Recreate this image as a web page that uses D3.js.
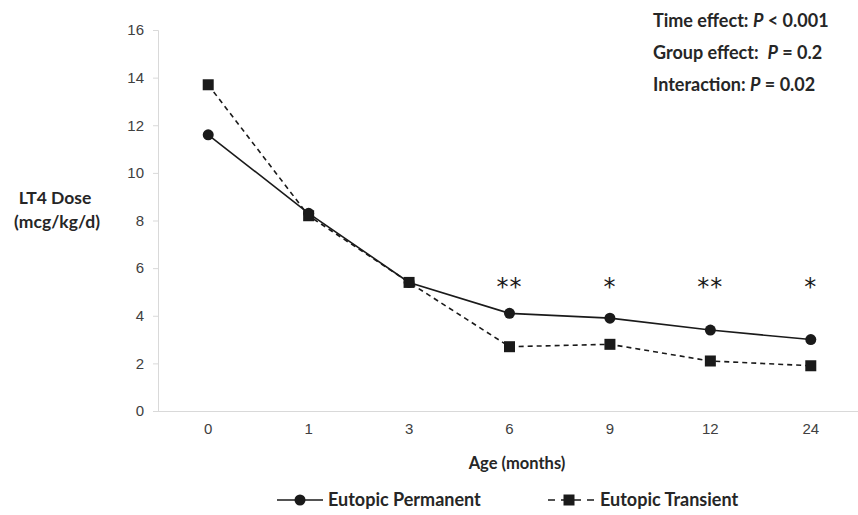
<!DOCTYPE html>
<html>
<head>
<meta charset="utf-8">
<script src="https://cdn.jsdelivr.net/npm/d3@7"></script>
<style>
  body { margin: 0; background: #fff; }
  svg { font-family: Lato, "Open Sans", sans-serif; }
</style>
</head>
<body>
<div id="chart"></div>
<script>
// Chart data
const ages = ["0", "1", "3", "6", "9", "12", "24"];
const permanent = [11.6, 8.3, 5.4, 4.1, 3.9, 3.4, 3.0];
const transient = [13.7, 8.2, 5.4, 2.7, 2.8, 2.1, 1.9];
const stars = ["", "", "", "**", "*", "**", "*"];
const yTicks = [0, 2, 4, 6, 8, 10, 12, 14, 16];
const stats = [
    ["Time effect: ", "P", " < 0.001"],
    ["Group effect:  ", "P", " = 0.2"],
    ["Interaction: ", "P", " = 0.02"]
];

const width = 858, height = 515;
const margin = { top: 30, right: -3, bottom: 104, left: 158 };
const ink = "#1a1a1a", textCol = "#262626";

const svg = d3.select("#chart").append("svg")
    .attr("width", width)
    .attr("height", height);

const x = d3.scaleBand()
    .domain(ages)
    .range([margin.left, width - margin.right]);

const y = d3.scaleLinear()
    .domain([0, 16])
    .range([height - margin.bottom, margin.top]);

const cx = d => x(d) + x.bandwidth() / 2;

// Y axis
const yAxis = svg.append("g")
    .attr("transform", `translate(${margin.left},0)`)
    .call(d3.axisLeft(y).tickValues(yTicks).tickSize(5).tickPadding(9));
yAxis.select(".domain").attr("stroke", "#d9d9d9");
yAxis.selectAll(".tick line").attr("stroke", "#d9d9d9");
yAxis.selectAll("text").style("font-size", "15px").attr("fill", "#404040");

// X axis
const xAxis = svg.append("g")
    .attr("transform", `translate(0,${y(0)})`)
    .call(d3.axisBottom(x).tickSize(0).tickPadding(12));
xAxis.select(".domain").attr("stroke", "#d9d9d9").attr("d", `M${margin.left - 5},0.5H${width - margin.right}`);
xAxis.selectAll("text").style("font-size", "15px").attr("fill", "#404040");

// Axis titles
const bold = (sel, size) => sel.style("font-size", (size || 18) + "px").style("font-weight", "bold").attr("fill", textCol);

svg.append("text")
    .attr("x", 517)
    .attr("y", 469)
    .attr("text-anchor", "middle")
    .call(bold, 16.5)
    .text("Age (months)");

svg.append("text")
    .attr("x", 55)
    .attr("y", 204)
    .attr("text-anchor", "middle")
    .call(bold, 17.5)
    .text("LT4 Dose");
svg.append("text")
    .attr("x", 57)
    .attr("y", 228)
    .attr("text-anchor", "middle")
    .call(bold, 17.5)
    .text("(mcg/kg/d)");

// Lines
const line = d3.line()
    .x((d, i) => cx(ages[i]))
    .y(d => y(d));

svg.append("path")
    .datum(transient)
    .attr("fill", "none")
    .attr("stroke", ink)
    .attr("stroke-width", 1.6)
    .attr("stroke-dasharray", "5,4")
    .attr("d", line);

svg.append("path")
    .datum(permanent)
    .attr("fill", "none")
    .attr("stroke", ink)
    .attr("stroke-width", 1.6)
    .attr("d", line);

// Markers
svg.selectAll(".sq")
    .data(transient)
    .enter().append("rect")
    .attr("x", (d, i) => cx(ages[i]) - 5.5)
    .attr("y", d => y(d) - 5.5)
    .attr("width", 11)
    .attr("height", 11)
    .attr("fill", ink);

svg.selectAll(".dot")
    .data(permanent)
    .enter().append("circle")
    .attr("cx", (d, i) => cx(ages[i]))
    .attr("cy", d => y(d))
    .attr("r", 5.5)
    .attr("fill", ink);

// Significance stars
svg.selectAll(".star")
    .data(stars)
    .enter().append("text")
    .attr("x", (d, i) => cx(ages[i]))
    .attr("y", 295)
    .attr("text-anchor", "middle")
    .style("font-family", "'DejaVu Sans', sans-serif")
    .style("font-size", "24px")
    .style("letter-spacing", "1px")
    .attr("fill", ink)
    .text(d => d);

// Stats annotation
stats.forEach((s, i) => {
    const t = svg.append("text")
        .attr("x", 653)
        .attr("y", 27 + i * 32)
        .call(bold, 18)
        .style("white-space", "pre");
    t.append("tspan").text(s[0]);
    t.append("tspan").style("font-style", "italic").text(s[1]);
    t.append("tspan").text(s[2]);
});

// Legend
const lg = svg.append("g").attr("transform", "translate(0,506)");
lg.append("line").attr("x1", 277).attr("x2", 323).attr("y1", -6).attr("y2", -6)
    .attr("stroke", ink).attr("stroke-width", 1.6);
lg.append("circle").attr("cx", 300).attr("cy", -6).attr("r", 5.5).attr("fill", ink);
lg.append("text").attr("x", 328).attr("y", 0)
    .call(bold)
    .text("Eutopic Permanent");

lg.append("line").attr("x1", 548).attr("x2", 595).attr("y1", -6).attr("y2", -6)
    .attr("stroke", ink).attr("stroke-width", 1.6).attr("stroke-dasharray", "7,6");
lg.append("rect").attr("x", 563.5).attr("y", -11.5).attr("width", 11).attr("height", 11).attr("fill", ink);
lg.append("text").attr("x", 600).attr("y", 0)
    .call(bold)
    .text("Eutopic Transient");
</script>
</body>
</html>
